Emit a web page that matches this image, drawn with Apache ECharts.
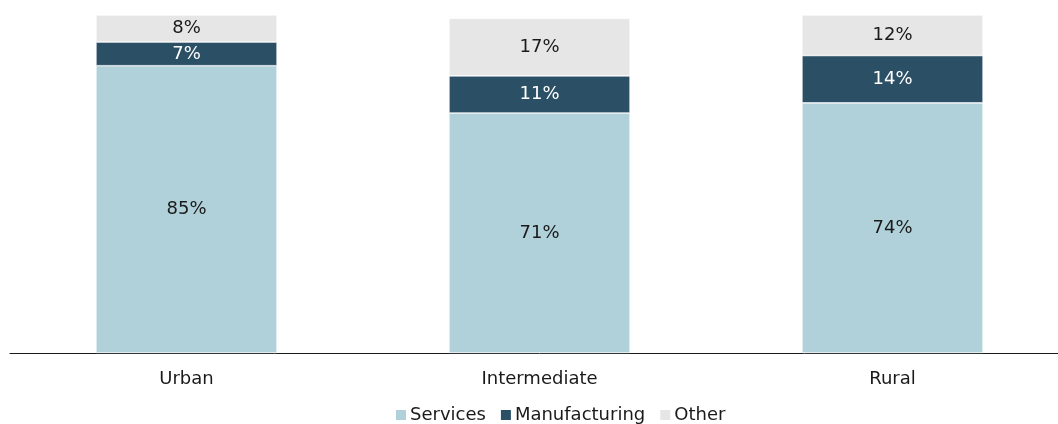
<!DOCTYPE html>
<html>
<head>
<meta charset="utf-8">
<script src="https://cdn.jsdelivr.net/npm/echarts@6/dist/echarts.min.js"></script>
<style>
  html, body { margin: 0; padding: 0; background: #fff; overflow: hidden; }
  /* plot area runs slightly past the right edge of the window */
  #chart { width: 1069px; height: 424px; }
</style>
</head>
<body>
<div id="chart"></div>
<script>
// Share of employment by sector, by region type (%)
const categories = ['Urban', 'Intermediate', 'Rural'];
const services = [85, 71, 74];
const manufacturing = [7, 11, 14];
const other = [8, 17, 12];

const FONT = '"DejaVu Sans", Verdana, sans-serif';
const FS = 18;

function seg(name, data, color, textColor) {
  return {
    name: name,
    type: 'bar',
    stack: 'total',
    barWidth: '51.3%',
    data: data,
    itemStyle: { color: color, borderColor: '#ffffff', borderWidth: 0.6 },
    label: {
      show: true,
      position: 'inside',
      formatter: '{c}%',
      color: textColor,
      fontFamily: FONT,
      fontSize: FS
    },
    emphasis: { disabled: true }
  };
}

const chart = echarts.init(document.getElementById('chart'), null, { renderer: 'canvas' });
chart.setOption({
  animation: false,
  grid: { left: 10, top: 15, right: 0, bottom: 71, containLabel: false },
  legend: {
    top: 401,
    left: 389,
    itemWidth: 12,
    itemHeight: 12,
    itemGap: 13,
    icon: 'rect',
    textStyle: { fontFamily: FONT, fontSize: FS, color: '#1a1a1a', padding: [0, 0, 0, -2] },
    data: ['Services', 'Manufacturing', 'Other']
  },
  xAxis: {
    type: 'category',
    data: categories,
    axisLine: { show: true, lineStyle: { color: '#1a1a1a', width: 1 } },
    axisTick: { show: false },
    axisLabel: { fontFamily: FONT, fontSize: FS, color: '#1a1a1a', margin: 17 }
  },
  yAxis: {
    type: 'value',
    min: 0,
    max: 100,
    show: false,
    splitLine: { show: false }
  },
  series: [
    seg('Services', services, '#b0d0da', '#1a1a1a'),
    seg('Manufacturing', manufacturing, '#2b4f65', '#ffffff'),
    seg('Other', other, '#e6e6e6', '#1a1a1a')
  ]
});
</script>
</body>
</html>
